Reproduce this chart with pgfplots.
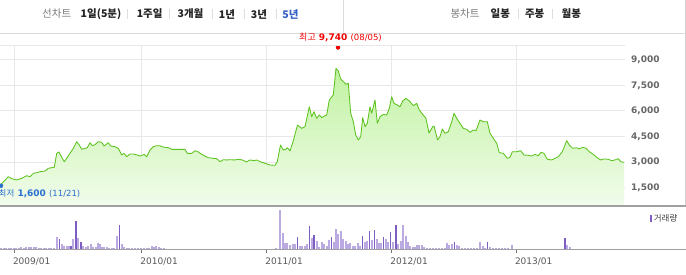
\documentclass[border=0pt]{standalone}
\usepackage{pgfplots}
\pgfplotsset{compat=1.18}
\usepackage{pgfplotstable}
\usepackage{fontspec}
\setmainfont{DejaVu Sans}
\newfontfamily\kr{Noto Sans CJK KR}
\definecolor{lineG}{HTML}{5CC21E}
\definecolor{fillTop}{HTML}{C0F2A0}
\definecolor{fillBot}{HTML}{F2FCEC}
\definecolor{gridC}{HTML}{E8E8E8}
\definecolor{volL}{HTML}{BBAAE2}
\definecolor{volD}{HTML}{7F5EC4}
\definecolor{sepC}{HTML}{A0A0A0}
\definecolor{lblC}{HTML}{666666}
\definecolor{blueC}{HTML}{2A70D2}
\definecolor{redC}{HTML}{F20000}
\definecolor{hdrGray}{HTML}{7A7A7A}
\definecolor{hdrBlack}{HTML}{222222}
\definecolor{hdrBlue}{HTML}{3560C4}

\pgfplotstableread{
x y
0 1650
3.3 1820
8.3 2135
11.7 2020
16.7 1940
21.7 2040
26.7 2195
30 2135
33.3 2335
36.7 2370
40 2430
45 2470
48.3 2630
54.3 2690
56.7 3510
59 3590
61.7 3275
64.3 3020
66.7 3215
70 3510
73.3 3805
76.7 4195
79.3 4000
81.7 3745
85 3805
87.3 3840
90 4135
92.3 3960
95 4020
98.3 4195
101.7 4160
104 3940
106.7 4060
108.3 4135
110.7 3940
115 3900
118.3 3805
121.7 3410
124 3510
126.7 3310
130 3470
133.3 3470
137.3 3410
140.7 3350
144 3450
146.7 3310
150 3705
153.3 3900
156.7 3960
160 3960
161.7 3900
165 3860
168.3 3840
171.7 3745
180 3745
185 3745
187.3 3510
191.7 3510
195 3665
198.3 3590
201.7 3450
205 3350
208.3 3255
213.3 3215
216.7 3195
220 3020
223.3 3135
226.7 3120
230 3135
235 3120
238.3 3160
242.3 3120
246.7 3000
250 3120
254 3080
256.7 3120
260 3020
265 2920
270 2825
275 2805
277.3 3020
280.5 4000
283.3 3705
285.7 3745
287.3 3840
290 3650
293.3 4250
297.5 5175
301.7 4980
305 5075
309.3 6250
311.7 5665
314 5960
316.7 5570
319.3 5765
321.7 5610
325 5725
326.7 5765
329.3 6650
332.7 6900
333.3 6950
336 8510
338.3 8355
340.7 7885
343.3 7725
346 7570
348.3 7630
350.7 5865
353.3 5370
355.7 4590
358.3 4295
360.7 4490
362.7 5610
365 5075
367.3 5275
370 6250
371.7 5865
375 6650
377.3 5275
380 5665
383.3 5800
386.7 5765
389.3 6155
391.7 6840
394 6450
397.3 6355
400 6250
402.7 6590
406 6745
409.3 6590
413.3 6315
416.7 6450
419.3 6060
422.7 5800
426 5570
429 4700
432.7 5075
434 5120
437.5 4295
440 4490
442.3 4940
445 4690
448.3 4785
451.7 5370
454 5865
456.7 5570
460 5275
463.3 4980
466.7 4920
470 4745
473.3 4880
476 4840
480 5470
483.3 5370
487.3 5370
490 4690
493.3 4395
496.7 4100
499.3 3550
503.3 3510
507.3 3215
510 3275
512.3 3605
516.7 3605
520.7 3665
524 3410
528.3 3395
531.7 3350
535 3450
538.3 3370
541 3570
544 3510
547.3 3160
551.7 3120
555 3215
558.3 3310
562.3 3605
566.7 4255
569.3 4000
572.7 3805
576.7 3840
579.3 3765
582.7 3865
586 3805
589.3 3605
593.3 3450
596.7 3275
600.7 3120
604 3180
608.3 3160
611.7 3080
615 3120
618.3 3195
620.7 3020
624 2980
}\price

\pgfplotstableread{
x v
1 1
3.5 1
6 1.3
8.5 1
11 1
13.5 1
16 1.3
18.5 1.3
21 2
23.5 1.7
26 2
28.5 2.3
31 2.3
33.5 2
36 2
38.5 1.7
41 1.3
43.5 1.3
46 1.3
48.5 1.3
51 1.3
53.5 1.7
56.7 12.7
61.7 5
64 3.7
66.7 3.3
69 3.3
73.3 10.3
78.3 11
83.3 3.3
86 2.7
88.3 3.7
90.7 5
93.3 2.7
95.5 2.7
97.7 6
99.8 5
102 2.7
104.3 2.7
106.7 2.7
109 1.7
111.5 1.3
114 1.3
116.7 13.7
121.7 5
124 2
126.5 1.3
129 1
132 1
135 1
138 1
141 1
144 1
146.5 1.3
149 1.7
151.7 3
154 2
156.3 3.7
158.7 2
161 1.3
164 1
168 0.7
172 0.7
176 0.7
180 0.7
184 0.7
188 0.7
192 0.7
196 0.7
200 0.7
204 0.7
208 0.7
212 0.7
216 0.7
220 0.7
224 0.7
228 0.7
232 0.7
236 0.7
240 0.7
244 0.7
248 0.7
252 0.7
256 0.7
260 0.7
264 0.7
268 0.7
272 0.7
276 1
280 39.3
282.7 16.7
285 6
287.3 6
290 4.3
292.7 5
295 5
300 3.3
302.3 3.7
305 3.7
307.3 5
311.7 11
316.7 8.7
319.3 2.7
321.7 7
324 5
326.7 3.7
329.3 9.3
334 7.7
336 20.3
338.3 15
340.7 18.3
343.3 10.3
345.7 8.3
348 5
350.3 6
352.7 3.3
355 3.3
357.7 6.7
360 3.3
364.7 7.7
367 8.7
372 9.3
376.7 10
379 6.7
381.3 6
386 10
388.3 7.7
393.3 7.7
398.3 5.3
400.7 8.7
403.3 24.3
405.7 13.7
407.7 7
410 3.3
412.5 2.7
415 2.7
417 4.3
419.3 4.7
421.7 4
424 2.7
427 1
430 1
433 1
436 1
439 1
442 1
444.5 1.3
446.7 6.7
449.3 4.3
451.7 5.3
456.7 4.7
459 3.3
462 1.7
465 1.7
468 1.7
471 1.7
474 1.7
477 1.7
480 7
482.7 3.3
485 1.7
490 2.7
493 1.7
496 1.7
499 1.7
502 1.7
505 1.7
508 1.7
511.7 4.3
514 0.7
518 0.7
522 0.7
526 0.7
530 0.7
534 0.7
538 0.7
542 0.7
546 0.7
550 0.7
554 0.7
558 0.7
562 0.7
567.3 4.3
570 2
574 0.7
578 0.7
582 0.7
586 0.7
590 0.7
594 0.7
598 0.7
602 0.7
606 0.7
610 0.7
614 0.7
618 0.7
622 0.7
}\volLight

\pgfplotstableread{
x v
59.3 10
71 3.3
76 28.3
81 7.7
119.3 24.3
297.7 12.7
309.3 23.3
314 14.3
331.7 12.7
362.3 13.3
369.3 18.3
374.3 19.3
383.7 12.7
390.7 17
396 24.3
454.3 7.7
487.3 7.7
565 11.7
}\volDark

\begin{document}
\begin{tikzpicture}
\useasboundingbox (0pt,0pt) rectangle (686pt,-274pt);
\fill[white] (0pt,0pt) rectangle (686pt,-274pt);

% header
\draw[color=black!14, line width=1pt] (0pt,-33pt) -- (686pt,-33pt);
\draw[color=black!14, line width=1pt] (343pt,0pt) -- (343pt,-33pt);
\draw[color=black!18, line width=1pt] (685.5pt,0pt) -- (685.5pt,-206pt);
\foreach \sx in {127.7,169,212,244,276,518.7,552.3}
  \draw[color=black!13, line width=0.8pt] (\sx pt,-9pt) -- (\sx pt,-19pt);
\begin{scope}[every node/.style={inner sep=0pt, font=\kr\fontsize{10.5}{12}\selectfont}]
\node[text=hdrGray] at (56.7pt,-14pt) {선차트};
\node[text=hdrBlack, font=\kr\bfseries\fontsize{10.5}{12}\selectfont] at (101pt,-14pt) {1일(5분)};
\node[text=hdrBlack, font=\kr\bfseries\fontsize{10.5}{12}\selectfont] at (149.7pt,-14pt) {1주일};
\node[text=hdrBlack, font=\kr\bfseries\fontsize{10.5}{12}\selectfont] at (190.5pt,-14pt) {3개월};
\node[text=hdrBlack, font=\kr\bfseries\fontsize{10.5}{12}\selectfont] at (227pt,-14pt) {1년};
\node[text=hdrBlack, font=\kr\bfseries\fontsize{10.5}{12}\selectfont] at (259pt,-14pt) {3년};
\node[text=hdrBlue, font=\kr\bfseries\fontsize{10.5}{12}\selectfont] at (290.5pt,-14pt) {5년};
\node[text=hdrGray] at (465pt,-14pt) {봉차트};
\node[text=hdrBlack, font=\kr\bfseries\fontsize{10.5}{12}\selectfont] at (500.3pt,-14pt) {일봉};
\node[text=hdrBlack, font=\kr\bfseries\fontsize{10.5}{12}\selectfont] at (534.7pt,-14pt) {주봉};
\node[text=hdrBlack, font=\kr\bfseries\fontsize{10.5}{12}\selectfont] at (571.3pt,-14pt) {월봉};
\end{scope}

% price panel
\begin{axis}[
  at={(0pt,-206pt)}, anchor=south west,
  scale only axis, width=625pt, height=160.3pt,
  xmin=0, xmax=625, ymin=412, ymax=9840,
  axis line style={draw=none},
  xtick={14.3,141.7,266.7,391.7,516.3}, xticklabels={},
  ytick={1500,3000,4500,6000,7500,9000},
  yticklabel pos=right,
  major tick length=0pt,
  grid=major,
  major grid style={color=gridC, line width=1pt},
  yticklabel style={anchor=west, inner sep=0pt, xshift=6pt, text=lblC, font=\bfseries\fontsize{9}{10}\selectfont},
  /pgf/number format/.cd, 1000 sep={,}, assume math mode=true,
  /pgfplots/.cd,
  clip=false,
]
\begin{scope}
\clip (axis cs:0,412) rectangle (axis cs:625,9840);
\addplot[draw=none, top color=fillTop, bottom color=fillBot] table[x=x,y=y] {\price} \closedcycle;
\end{scope}
\addplot[color=lineG, line width=0.85pt, line join=round] table[x=x,y=y] {\price};
\addplot[only marks, mark=*, mark size=2pt, color=redC] coordinates {(338,9740)};
\addplot[only marks, mark=*, mark size=2pt, color=blueC] coordinates {(1,1600)};
\node[anchor=south, inner sep=0pt, text=redC] at (axis cs:340.5,9740) [yshift=5pt]
  {{\kr\fontsize{9}{10}\selectfont 최고} {\bfseries\fontsize{9}{10}\selectfont 9,740} {\fontsize{8.5}{10}\selectfont(08/05)}};
\node[anchor=west, inner sep=0pt, text=blueC] at (axis cs:-1.5,1600) [yshift=-8pt]
  {{\kr\fontsize{8.5}{10}\selectfont 최저} {\bfseries\fontsize{9}{10}\selectfont 1,600} {\fontsize{8.5}{10}\selectfont(11/21)}};
\end{axis}
\draw[color=gridC, line width=1pt] (0pt,-45.7pt) -- (625pt,-45.7pt);
\draw[color=sepC, line width=1.2pt] (0pt,-206pt) -- (686pt,-206pt);

% volume panel
\begin{axis}[
  at={(0pt,-249.3pt)}, anchor=south west,
  scale only axis, width=625pt, height=43.3pt,
  xmin=0, xmax=625, ymin=0, ymax=43.3,
  axis line style={draw=none},
  xtick={14.3,141.7,266.7,391.7,516.3},
  xticklabels={2009/01,2010/01,2011/01,2012/01,2013/01},
  ytick=\empty,
  xtick pos=bottom, tick align=outside, major tick length=4pt,
  xtick style={color=black!55, line width=0.8pt},
  xticklabel style={anchor=west, inner sep=0pt, xshift=-1.5pt, yshift=-8.5pt, text=black!65, font=\fontsize{9}{10}\selectfont},
  clip=false,
]
\addplot[ycomb, color=volL, line width=2pt] table[x=x,y=v] {\volLight};
\addplot[ycomb, color=volD, line width=1.3pt] table[x=x,y=v] {\volDark};
\end{axis}
\draw[color=sepC, line width=1.2pt] (0pt,-249.3pt) -- (686pt,-249.3pt);
\fill[volD] (649.7pt,-215pt) rectangle (652.3pt,-222pt);
\node[anchor=west, inner sep=0pt, text=black!75, font=\kr\fontsize{8.5}{10}\selectfont] at (653.7pt,-218.5pt) {거래량};
\end{tikzpicture}
\end{document}
